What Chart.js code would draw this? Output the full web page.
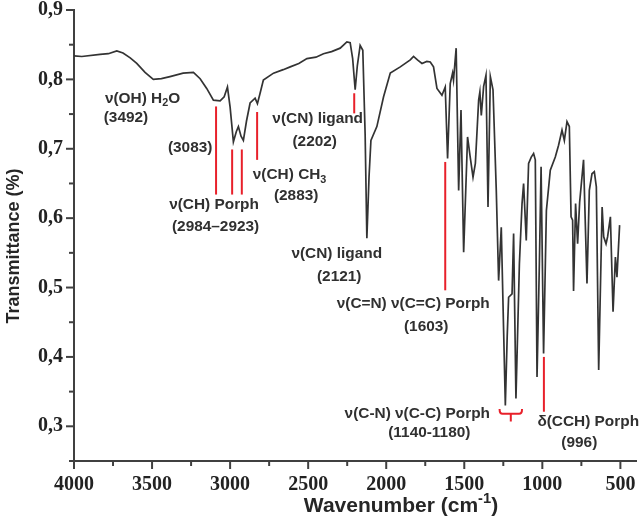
<!DOCTYPE html>
<html>
<head>
<meta charset="utf-8">
<script src="https://cdn.jsdelivr.net/npm/chart.js@4.4.1/dist/chart.umd.min.js"></script>
<style>
  html, body { margin: 0; padding: 0; background: #ffffff; }
  #wrap { width: 640px; height: 522px; }
</style>
</head>
<body>
<div id="wrap"><canvas id="ir-chart" width="640" height="522"></canvas></div>
<script>
// IR spectrum (wavenumber in cm-1, transmittance)
const wavenumbers = [4000, 3950, 3833, 3780, 3726, 3686, 3640, 3598, 3545, 3492, 3440, 3385, 3301, 3235, 3192, 3150, 3107, 3064, 3038, 3017,
    3000, 2979, 2960, 2947, 2930, 2915, 2895, 2872, 2840, 2825, 2808, 2787, 2722, 2660, 2615, 2560, 2508, 2450, 2402, 2350,
    2295, 2252, 2231, 2215, 2199, 2185, 2167, 2150, 2135, 2124, 2110, 2098, 2060, 2017, 1974, 1910, 1846, 1825, 1800, 1771,
    1740, 1718, 1697, 1675, 1643, 1622, 1607, 1590, 1575, 1569, 1552, 1536, 1521, 1504, 1479, 1462, 1444, 1429, 1408, 1400,
    1391, 1376, 1361, 1348, 1333, 1316, 1295, 1280, 1263, 1248, 1237, 1225, 1216, 1194, 1184, 1169, 1147, 1130, 1120, 1103,
    1088, 1071, 1056, 1045, 1034, 1019, 1008, 992, 974, 949, 917, 896, 874, 859, 842, 827, 816, 806, 800, 787,
    774, 761, 736, 714, 699, 682, 667, 654, 639, 617, 607, 592, 582, 564, 547, 532, 522, 505];
const transmittance = [0.834, 0.833, 0.836, 0.837, 0.841, 0.838, 0.831, 0.823, 0.810, 0.800, 0.801, 0.804, 0.809, 0.810, 0.801, 0.787, 0.770, 0.769, 0.775, 0.789,
    0.760, 0.710, 0.725, 0.732, 0.718, 0.712, 0.740, 0.766, 0.773, 0.765, 0.780, 0.799, 0.809, 0.814, 0.818, 0.823, 0.830, 0.832, 0.837, 0.840,
    0.845, 0.854, 0.853, 0.830, 0.785, 0.820, 0.849, 0.842, 0.720, 0.571, 0.660, 0.712, 0.732, 0.775, 0.809, 0.818, 0.828, 0.833, 0.828, 0.823,
    0.826, 0.825, 0.818, 0.787, 0.777, 0.789, 0.686, 0.794, 0.809, 0.799, 0.845, 0.640, 0.756, 0.551, 0.717, 0.688, 0.659, 0.679, 0.770, 0.782,
    0.748, 0.790, 0.806, 0.616, 0.804, 0.785, 0.640, 0.510, 0.587, 0.438, 0.330, 0.430, 0.486, 0.491, 0.578, 0.340, 0.534, 0.621, 0.650, 0.568,
    0.679, 0.688, 0.693, 0.684, 0.371, 0.534, 0.674, 0.405, 0.611, 0.669, 0.688, 0.705, 0.727, 0.712, 0.739, 0.732, 0.602, 0.597, 0.495, 0.621,
    0.563, 0.623, 0.684, 0.506, 0.640, 0.664, 0.667, 0.645, 0.381, 0.616, 0.573, 0.563, 0.573, 0.602, 0.465, 0.544, 0.515, 0.590];

// band assignments: text and where it sits (wavenumber, transmittance)
const labelTexts = ['ν(OH) H_{2}O', '(3492)', '(3083)', 'ν(CH) Porph', '(2984–2923)', 'ν(CH) CH_{3}', '(2883)',
    'ν(CN) ligand', '(2202)', 'ν(CN) ligand', '(2121)', 'ν(C=N) ν(C=C) Porph', '(1603)',
    'ν(C-N) ν(C-C) Porph', '(1140-1180)', 'δ(CCH) Porph', '(996)'];
const labelWn = [3561, 3667, 3256, 3103, 3093, 2619, 2577, 2439, 2458, 2317, 2301, 1827, 1744, 1801, 1724, 706, 763];
const labelT = [0.772, 0.744, 0.701, 0.619, 0.588, 0.662, 0.633, 0.743, 0.710, 0.548, 0.516, 0.476, 0.443, 0.318, 0.290, 0.306, 0.277];

// red marker lines under the bands
const markerWn = [3090, 2987, 2925, 2827, 2205, 1622, 990];
const markerTop = [0.761, 0.699, 0.699, 0.753, 0.780, 0.681, 0.400];
const markerBottom = [0.634, 0.634, 0.634, 0.684, 0.751, 0.496, 0.321];

// bracket over the 1140-1180 pair
const bracketWn = [1274, 1202, 1130];
const bracketT = [0.325, 0.318, 0.307];

const xTitle = 'Wavenumber (cm^{-1})';
const yTitle = 'Transmittance (%)';

const inkColor = '#303030';
const redColor = '#e8202a';

// draws text with _{sub} and ^{sup} parts, centred on cx
function drawRich(ctx, text, cx, cy, size, family) {
    const parts = text.split(/(_\{[^}]*\}|\^\{[^}]*\})/).filter(s => s.length).map(s => {
        if (s.startsWith('_{')) return { t: s.slice(2, -1), dy: size * 0.3, k: 0.7 };
        if (s.startsWith('^{')) return { t: s.slice(2, -1), dy: -size * 0.35, k: 0.7 };
        return { t: s, dy: 0, k: 1 };
    });
    let total = 0;
    parts.forEach(p => {
        ctx.font = 'bold ' + (size * p.k).toFixed(1) + 'px ' + family;
        p.w = ctx.measureText(p.t).width;
        total += p.w;
    });
    let xPos = cx - total / 2;
    parts.forEach(p => {
        ctx.font = 'bold ' + (size * p.k).toFixed(1) + 'px ' + family;
        ctx.fillText(p.t, xPos, cy + p.dy);
        xPos += p.w;
    });
}

function isMajor(v, step) {
    return Math.abs(v / step - Math.round(v / step)) < 1e-6;
}

const spectrumDecor = {
    id: 'spectrumDecor',
    afterDraw(chart) {
        const ctx = chart.ctx;
        const x = chart.scales.x;
        const y = chart.scales.y;
        ctx.save();

        // tick marks, long for labelled ones
        ctx.strokeStyle = '#404040';
        ctx.lineWidth = 2;
        x.ticks.forEach((t, i) => {
            const px = x.getPixelForTick(i);
            const len = isMajor(t.value, 500) ? 8 : 5;
            ctx.beginPath();
            ctx.moveTo(px, chart.chartArea.bottom);
            ctx.lineTo(px, chart.chartArea.bottom + len);
            ctx.stroke();
        });
        y.ticks.forEach((t, i) => {
            const py = y.getPixelForTick(i);
            const len = isMajor(t.value, 0.1) ? 8 : 5;
            ctx.beginPath();
            ctx.moveTo(chart.chartArea.left, py);
            ctx.lineTo(chart.chartArea.left - len, py);
            ctx.stroke();
        });

        // red marker lines
        ctx.strokeStyle = redColor;
        ctx.lineWidth = 2;
        markerWn.forEach((w, i) => {
            const px = x.getPixelForValue(w);
            ctx.beginPath();
            ctx.moveTo(px, y.getPixelForValue(markerTop[i]));
            ctx.lineTo(px, y.getPixelForValue(markerBottom[i]));
            ctx.stroke();
        });

        // bracket
        const bl = x.getPixelForValue(bracketWn[0]);
        const bc = x.getPixelForValue(bracketWn[1]);
        const br = x.getPixelForValue(bracketWn[2]);
        const bTop = y.getPixelForValue(bracketT[0]);
        const bMid = y.getPixelForValue(bracketT[1]);
        const bLow = y.getPixelForValue(bracketT[2]);
        ctx.beginPath();
        ctx.moveTo(bl, bTop);
        ctx.quadraticCurveTo(bl, bMid, bl + 3, bMid);
        ctx.lineTo(br - 3, bMid);
        ctx.quadraticCurveTo(br, bMid, br, bTop);
        ctx.moveTo(bc, bMid);
        ctx.lineTo(bc, bLow);
        ctx.stroke();

        // band labels
        ctx.fillStyle = inkColor;
        ctx.textBaseline = 'middle';
        ctx.textAlign = 'left';
        labelTexts.forEach((txt, i) => {
            drawRich(ctx, txt, x.getPixelForValue(labelWn[i]), y.getPixelForValue(labelT[i]), 15.4, '"Liberation Sans", Arial, sans-serif');
        });

        // axis titles
        ctx.fillStyle = '#262626';
        drawRich(ctx, xTitle, 401, 506, 21, '"Liberation Sans", Arial, sans-serif');
        ctx.translate(14, 246);
        ctx.rotate(-Math.PI / 2);
        drawRich(ctx, yTitle, 0, 0, 18, '"Liberation Sans", Arial, sans-serif');
        ctx.restore();
    }
};

const points = wavenumbers.map((w, i) => ({ x: w, y: transmittance[i] }));

new Chart(document.getElementById('ir-chart').getContext('2d'), {
    type: 'line',
    data: {
        datasets: [{
            data: points,
            borderColor: '#333333',
            borderWidth: 1.7,
            pointRadius: 0,
            tension: 0,
            fill: false
        }]
    },
    options: {
        responsive: false,
        animation: false,
        devicePixelRatio: 1,
        layout: { padding: { top: 10, right: 4, left: 0, bottom: 0 } },
        plugins: { legend: { display: false }, tooltip: { enabled: false } },
        scales: {
            x: {
                type: 'linear',
                reverse: true,
                min: 400,
                max: 4000,
                grid: { display: false, drawTicks: false },
                border: { display: true, color: '#404040', width: 2 },
                ticks: {
                    stepSize: 250,
                    includeBounds: false,
                    autoSkip: false,
                    maxRotation: 0,
                    padding: 12,
                    color: '#222222',
                    font: { family: '"Liberation Serif", "Times New Roman", serif', size: 20, weight: 'bold' },
                    callback: v => isMajor(v, 500) ? String(v) : ''
                },
                afterFit: scale => {
                    scale.height = 61;
                    scale.paddingLeft = 0;
                    scale.paddingRight = 0;
                }
            },
            y: {
                min: 0.25,
                max: 0.9,
                grid: { display: false, drawTicks: false },
                border: { display: true, color: '#404040', width: 2 },
                ticks: {
                    stepSize: 0.05,
                    autoSkip: false,
                    padding: 11,
                    color: '#222222',
                    font: { family: '"Liberation Serif", "Times New Roman", serif', size: 20, weight: 'bold' },
                    callback: v => isMajor(v, 0.1) ? v.toFixed(1).replace('.', ',') : ''
                },
                afterFit: scale => {
                    scale.width = 74;
                    scale.paddingTop = 0;
                    scale.paddingBottom = 0;
                }
            }
        }
    },
    plugins: [spectrumDecor]
});
</script>
</body>
</html>
